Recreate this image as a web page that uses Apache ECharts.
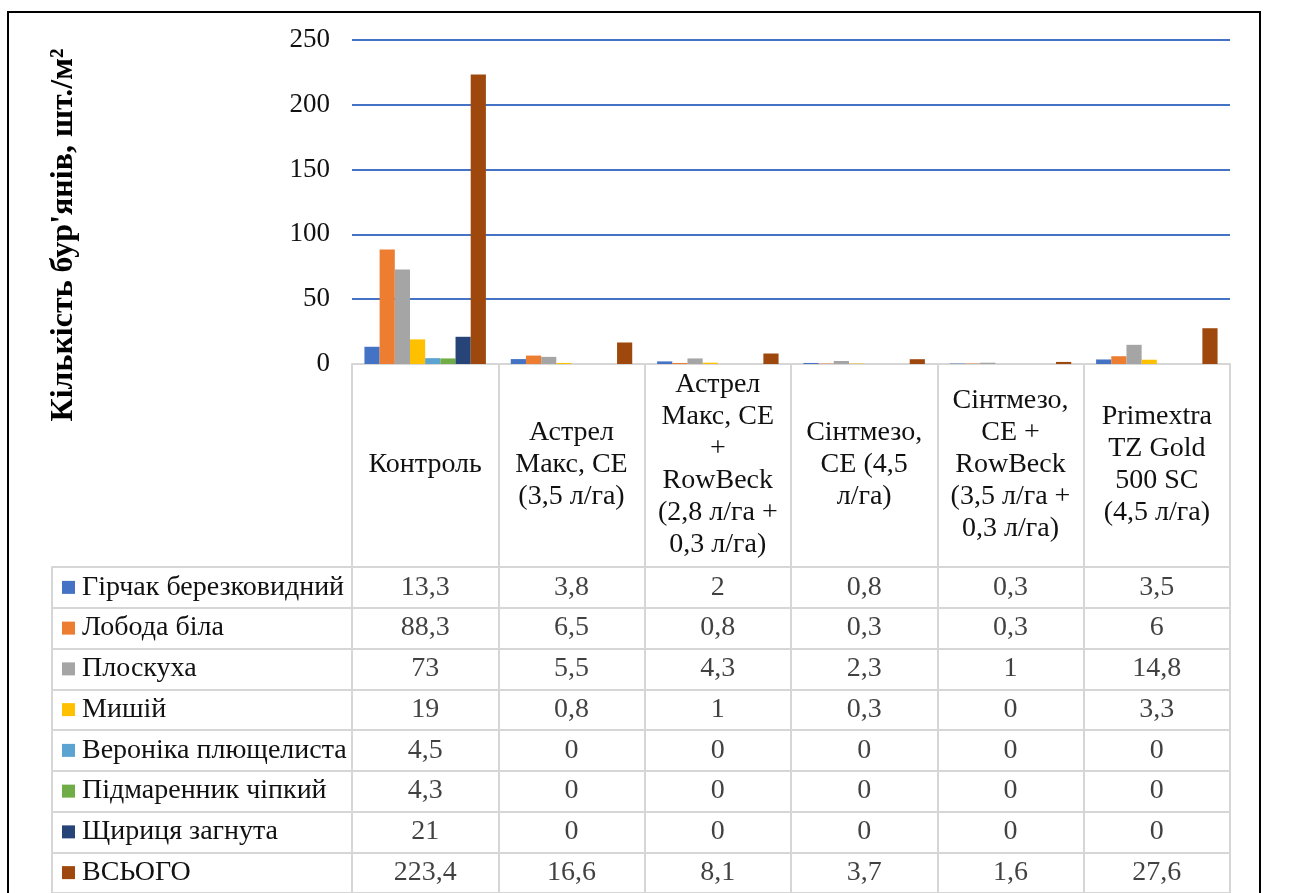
<!DOCTYPE html>
<html>
<head>
<meta charset="utf-8">
<script src="https://cdn.jsdelivr.net/npm/echarts@6/dist/echarts.min.js"></script>
<style>
  html, body { margin: 0; padding: 0; background: #fff; }
  #chart { width: 1295px; height: 893px; }
</style>
</head>
<body>
<div id="chart"></div>
<script>
// варіанти досліду (категорії)
var categories = [
    'Контроль',
    'Астрел\nМакс, CE\n(3,5 л/га)',
    'Астрел\nМакс, CE\n+\nRowBeck\n(2,8 л/га +\n0,3 л/га)',
    'Сінтмезо,\nCE (4,5\nл/га)',
    'Сінтмезо,\nCE +\nRowBeck\n(3,5 л/га +\n0,3 л/га)',
    'Primextra\nTZ Gold\n500 SC\n(4,5 л/га)'
];
var seriesNames = [
    'Гірчак березковидний',
    'Лобода біла',
    'Плоскуха',
    'Мишій',
    'Вероніка плющелиста',
    'Підмаренник чіпкий',
    'Щириця загнута',
    'ВСЬОГО'
];
var hirchak     = [13.3, 3.8, 2, 0.8, 0.3, 3.5];
var loboda      = [88.3, 6.5, 0.8, 0.3, 0.3, 6];
var ploskukha   = [73, 5.5, 4.3, 2.3, 1, 14.8];
var myshii      = [19, 0.8, 1, 0.3, 0, 3.3];
var veronika    = [4.5, 0, 0, 0, 0, 0];
var pidmarennyk = [4.3, 0, 0, 0, 0, 0];
var shchyrytsia = [21, 0, 0, 0, 0, 0];
var vsoho       = [223.4, 16.6, 8.1, 3.7, 1.6, 27.6];
var yTicks = [0, 50, 100, 150, 200, 250];

var seriesData = [hirchak, loboda, ploskukha, myshii, veronika, pidmarennyk, shchyrytsia, vsoho];
var colors = ['#4472C4', '#ED7D31', '#A5A5A5', '#FFC000', '#5BA3D0', '#70AD47', '#264478', '#9E480E'];

var FONT = 'Liberation Serif';
var tableLine = '#d6d6d6';

function fmt(v) {
    return String(v).replace('.', ',');
}

// стовпчики
var series = [];
for (var i = 0; i < seriesNames.length; i++) {
    series.push({
        name: seriesNames[i],
        type: 'bar',
        xAxisIndex: 0,
        yAxisIndex: 0,
        barGap: '0%',
        barCategoryGap: '17%',
        itemStyle: { color: colors[i] },
        data: seriesData[i]
    });
}

// таблиця даних під графіком
var cells = [];
for (var r = 0; r < seriesNames.length; r++) {
    for (var c = 0; c < categories.length; c++) {
        cells.push([c, r, seriesData[r][c]]);
    }
}
series.push({
    type: 'scatter',
    xAxisIndex: 1,
    yAxisIndex: 1,
    symbolSize: 0,
    silent: true,
    label: {
        show: true,
        position: 'inside',
        fontFamily: FONT,
        fontSize: 28,
        color: '#111',
        formatter: function (p) { return fmt(p.value[2]); }
    },
    data: cells
});

var rich = { t: { fontFamily: FONT, fontSize: 28, color: '#111', padding: [0, 0, 0, 7] } };
for (var k = 0; k < colors.length; k++) {
    rich['s' + k] = { width: 13, height: 13, backgroundColor: colors[k] };
}

var option = {
    animation: false,
    backgroundColor: '#fff',
    grid: [
        { left: 352, right: 65, top: 40, height: 324 },
        { left: 352, right: 65, top: 567, height: 328 }
    ],
    xAxis: [
        {
            type: 'category',
            gridIndex: 0,
            data: categories,
            axisLine: { show: true, lineStyle: { color: tableLine, width: 2 } },
            axisTick: { show: true, interval: 0, length: 203, lineStyle: { color: tableLine, width: 2 } },
            axisLabel: {
                interval: 0,
                margin: 101,
                verticalAlign: 'middle',
                fontFamily: FONT,
                fontSize: 28,
                lineHeight: 32,
                color: '#111'
            }
        },
        {
            type: 'category',
            gridIndex: 1,
            data: categories,
            position: 'top',
            axisLine: { show: false },
            axisTick: { show: false },
            axisLabel: { show: false },
            splitLine: { show: true, interval: 0, lineStyle: { color: tableLine, width: 2 } }
        }
    ],
    yAxis: [
        {
            type: 'value',
            gridIndex: 0,
            min: yTicks[0],
            max: yTicks[yTicks.length - 1],
            interval: 50,
            axisLine: { show: false },
            axisTick: { show: false },
            axisLabel: { margin: 22, fontFamily: FONT, fontSize: 27, color: '#111' },
            splitLine: { lineStyle: { color: '#4472C4', width: 2 } },
            name: "Кількість бур'янів, шт./м²",
            nameLocation: 'middle',
            nameGap: 272,
            nameTextStyle: {
                fontFamily: FONT,
                fontSize: 32,
                fontWeight: 'bold',
                color: '#000',
                padding: [0, 66, 0, 0]
            }
        },
        {
            type: 'category',
            gridIndex: 1,
            inverse: true,
            data: seriesNames,
            axisLine: { show: false },
            axisTick: { show: true, interval: 0, length: 300, lineStyle: { color: tableLine, width: 2 } },
            axisLabel: {
                interval: 0,
                align: 'left',
                margin: 290,
                formatter: function (val, idx) { return '{s' + idx + '|}{t|' + val + '}'; },
                rich: rich
            },
            splitLine: { show: true, interval: 0, lineStyle: { color: tableLine, width: 2 } }
        },
        {
            type: 'category',
            gridIndex: 1,
            inverse: true,
            data: seriesNames,
            position: 'left',
            offset: 300,
            axisLine: { show: true, lineStyle: { color: tableLine, width: 2 } },
            axisTick: { show: false },
            axisLabel: { show: false }
        }
    ],
    graphic: [
        {
            type: 'rect',
            z: 100,
            shape: { x: 8, y: 12, width: 1252, height: 900 },
            style: { fill: 'none', stroke: '#000', lineWidth: 2 }
        }
    ],
    series: series
};

var chart = echarts.init(document.getElementById('chart'));
chart.setOption(option);
</script>
</body>
</html>
